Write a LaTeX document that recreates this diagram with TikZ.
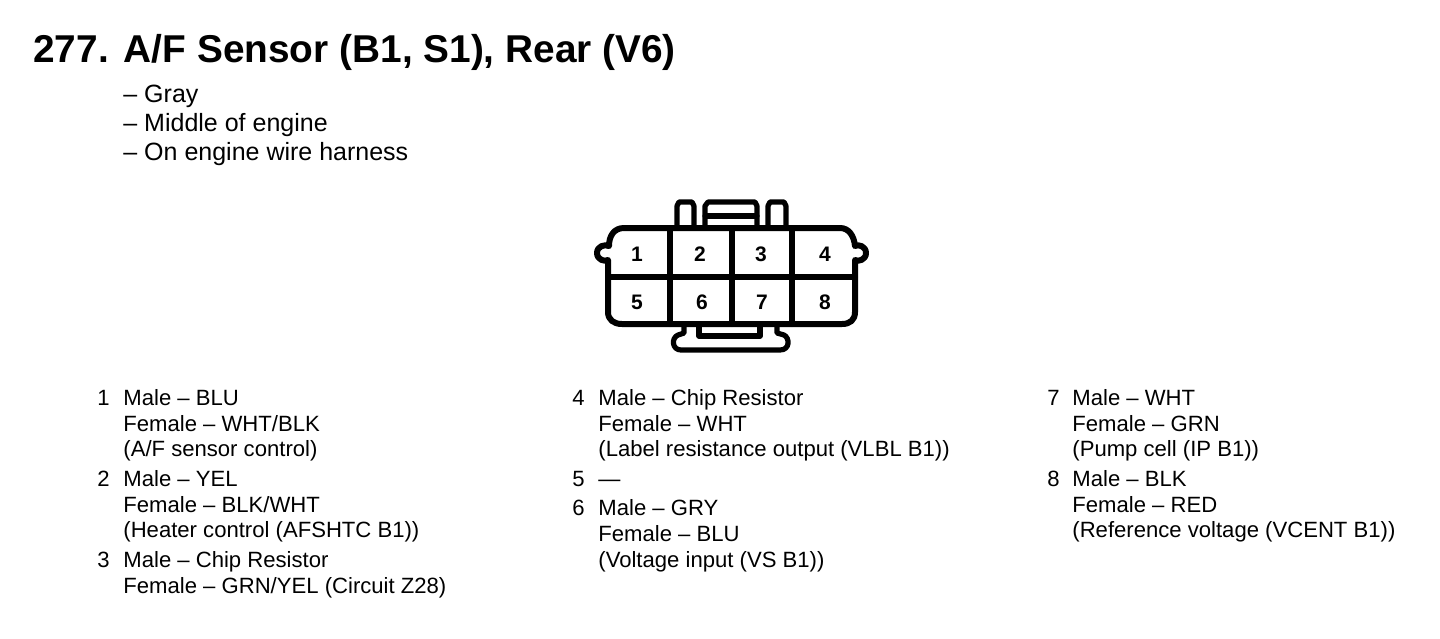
\documentclass[tikz,border=0pt]{standalone}
\usepackage{fontspec}
\setmainfont{Liberation Sans}
\tikzset{
  housing/.style={line width=3pt, line join=round, line cap=round},
  latch/.style={line width=2.6pt, line join=round, line cap=round},
  pinnum/.style={font=\fontsize{10.5}{12}\selectfont\bfseries, inner sep=0pt},
  itemnum/.style={font=\fontsize{11.05}{12.75}\selectfont, anchor=base east, inner sep=0pt},
  itemtext/.style={font=\fontsize{11.05}{12.75}\selectfont, align=left, anchor=base west, inner sep=0pt},
}
\begin{document}
\begin{tikzpicture}[x=0.5pt,y=-0.5pt]
    \useasboundingbox (0,0) rectangle (1440,638);

    % Title and location notes
    \node[anchor=base west, inner sep=0pt, font=\fontsize{19.4}{22}\selectfont\bfseries] (title) at (33,62) {277.\hspace{7.5pt}A/F Sensor (B1, S1), Rear (V6)};
    \node[itemtext, font=\fontsize{12.5}{14.5}\selectfont] (notes) at (123,160) {-- Gray\\-- Middle of engine\\-- On engine wire harness};

    % Top latches
    \draw[latch] (677,228) -- (677,206) -- (679,202) -- (692,202) -- (694,206) -- (694,228);
    \draw[latch] (705,228) -- (705,206) -- (708,202) -- (755,202) -- (757,206) -- (757,228);
    \draw[latch] (705,216) -- (757,216);
    \draw[latch] (768,228) -- (768,206) -- (770,202) -- (784,202) -- (786,206) -- (786,228);

    % Bottom latch
    \draw[latch] (684,324) -- (684,333) -- (678,335) .. controls (671,338) and (672,350) .. (681,350)
      -- (780,350) .. controls (790,350) and (790,338) .. (784,335) -- (777,333) -- (777,324);
    \draw[latch] (699,324) -- (699,336) -- (760,336) -- (760,324);

    % Connector outline with ears
    \draw[housing] (609,246) .. controls (609,236) and (614,228) .. (624,228)
      -- (840,228) .. controls (849,228) and (854,236) .. (855,246)
      .. controls (858,244) and (866,246) .. (866,253) .. controls (866,260) and (858,262) .. (855,260)
      -- (855,312) .. controls (855,320) and (850,324) .. (842,324)
      -- (622,324) .. controls (614,324) and (608,320) .. (608,312) -- (608,260)
      .. controls (605,262) and (597,260) .. (597,253) .. controls (597,246) and (605,244) .. (609,246) -- cycle;

    % Cell dividers
    \draw[housing] (608,277) -- (855,277);
    \foreach \xdiv in {670,732,792}
      \draw[housing] (\xdiv,228) -- (\xdiv,324);

    % Cavity numbers
    \node[pinnum] (pin1) at (637,254) {1};
    \node[pinnum] (pin2) at (700,254) {2};
    \node[pinnum] (pin3) at (761,254) {3};
    \node[pinnum] (pin4) at (825,254) {4};
    \node[pinnum] (pin5) at (637,302) {5};
    \node[pinnum] (pin6) at (702,302) {6};
    \node[pinnum] (pin7) at (762,302) {7};
    \node[pinnum] (pin8) at (825,302) {8};

    % Left column
    \node[itemnum] (num1) at (110,405) {1};
    \node[itemtext] (item1) at (123,456.5) {Male -- BLU\\[0.25pt]Female -- WHT/BLK\\(A/F sensor control)};
    \node[itemnum] (num2) at (110,486) {2};
    \node[itemtext] (item2) at (123,537.5) {Male -- YEL\\[0.25pt]Female -- BLK/WHT\\(Heater control (AFSHTC B1))};
    \node[itemnum] (num3) at (110,567) {3};
    \node[itemtext] (item3) at (123,593) {Male -- Chip Resistor\\Female -- GRN/YEL (Circuit Z28)};

    % Middle column
    \node[itemnum] (num4) at (585,405) {4};
    \node[itemtext] (item4) at (598,456.5) {Male -- Chip Resistor\\[0.25pt]Female -- WHT\\(Label resistance output (VLBL B1))};
    \node[itemnum] (num5) at (585,486) {5};
    \node[itemtext] (item5) at (598,486) {---};
    \node[itemnum] (num6) at (585,515) {6};
    \node[itemtext] (item6) at (598,567) {Male -- GRY\\[0.25pt]Female -- BLU\\[0.25pt](Voltage input (VS B1))};

    % Right column
    \node[itemnum] (num7) at (1060,405) {7};
    \node[itemtext] (item7) at (1072,456.5) {Male -- WHT\\[0.25pt]Female -- GRN\\(Pump cell (IP B1))};
    \node[itemnum] (num8) at (1060,486) {8};
    \node[itemtext] (item8) at (1072,537.5) {Male -- BLK\\[0.25pt]Female -- RED\\(Reference voltage (VCENT B1))};
\end{tikzpicture}
\end{document}
